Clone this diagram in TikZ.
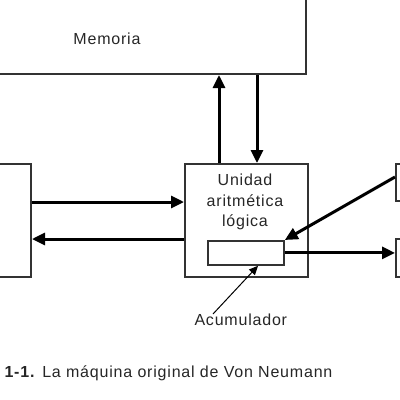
\documentclass[tikz,border=0pt]{standalone}
\usepackage{fontspec}
\setmainfont{Liberation Sans}[LetterSpace=5]
\usetikzlibrary{arrows.meta}
\begin{document}
\begin{tikzpicture}[x=1pt,y=-1pt,
  box/.style={draw=black!80,line width=1.8pt},
  conn/.style={line width=3pt,-{Triangle[length=13pt,width=12pt]}},
  thin/.style={line width=1pt,-{Triangle[length=9pt,width=8pt]}},
  lbl/.style={font=\fontsize{16}{18}\selectfont,text=black!85}]
\useasboundingbox (0,0) rectangle (400,400);
\begin{scope}
\clip (0,0) rectangle (400,400);
% boxes
\node[box,inner sep=0pt,minimum width=317pt,minimum height=76pt,anchor=south east] (mem) at (307,75) {};
\node[box,inner sep=0pt,minimum width=123pt,minimum height=113pt,anchor=north west] (alu) at (184,163) {};
\node[box,inner sep=0pt,minimum width=40pt,minimum height=113pt,anchor=north east] (inp) at (32,163) {};
\node[box,inner sep=0pt,minimum width=20pt,minimum height=37pt,anchor=north west] (ctl) at (395,163) {};
\node[box,inner sep=0pt,minimum width=20pt,minimum height=38pt,anchor=north west] (out) at (395,238) {};
\node[box,inner sep=0pt,minimum width=76pt,minimum height=24pt,anchor=north west] (acc) at (207,240) {};
\end{scope}
% texts
\node[lbl] (memt) at (107,39) {Memoria};
\node[lbl,align=center,font=\fontsize{16}{20.5}\selectfont] (alut) at (245,202) {Unidad\\aritmética\\lógica};
\node[lbl,anchor=west] (acct) at (191,320) {Acumulador};
\node[lbl,anchor=west] (cap) at (1,373) {\textbf{1-1.} La máquina original de Von Neumann};
% connectors
\draw[conn] (alu.north -| 219,0) -- (mem.south -| 219,0);
\draw[conn] (mem.south -| 257,0) -- (alu.north -| 257,0);
\draw[conn] (inp.east |- 0,202) -- (alu.west |- 0,202);
\draw[conn] (alu.west |- 0,239) -- (inp.east |- 0,239);
\draw[conn] (ctl.west |- 0,177) -- (acc.north east);
\draw[conn] (acc.east) -- (out.west |- acc.east);
\coordinate (pt) at (213,314);
\draw[thin] (pt) -- (acc.south -| 258,0);
\end{tikzpicture}
\end{document}
